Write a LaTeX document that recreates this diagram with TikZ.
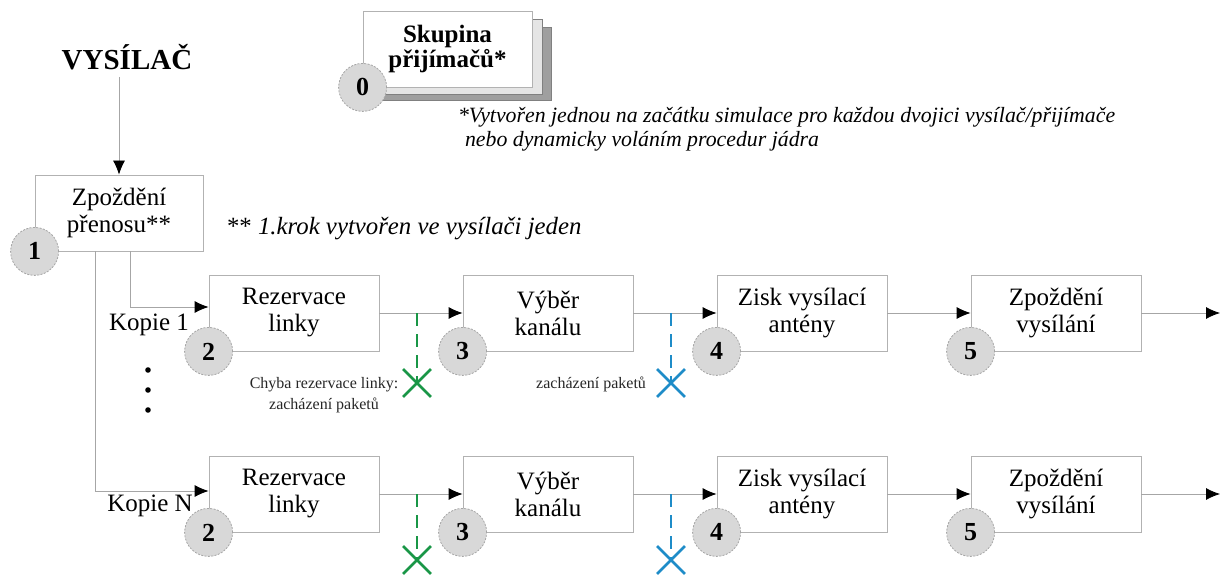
\documentclass[tikz,border=0pt]{standalone}
\usepackage{fontspec}
\setmainfont{Liberation Serif}
\usetikzlibrary{arrows.meta,calc,shapes.misc}
\definecolor{zelena}{RGB}{25,150,70}
\definecolor{modra}{RGB}{30,140,200}
\definecolor{kruh}{RGB}{216,216,216}
\begin{document}
\begin{tikzpicture}[x=0.5pt,y=-0.5pt,>={Latex[length=7pt,width=6pt,color=black]}]
\tikzstyle{every node}=[align=center]
\tikzstyle{blok}=[draw=gray!60,fill=white,minimum width=85pt,minimum height=38pt,inner sep=0pt,font=\fontsize{12.5}{13.5}\selectfont]
\tikzstyle{cislo}=[circle,draw=gray!70,dash pattern=on 1pt off 0.7pt,fill=kruh,minimum size=24pt,inner sep=0pt,font=\fontsize{13}{14}\selectfont\bfseries]
\tikzstyle{spoj}=[draw=gray!70,->]
\tikzstyle{zahoz}=[dash pattern=on 6.5pt off 4pt,line width=1.4pt]
\tikzstyle{krizek}=[cross out,line width=1.4pt,minimum size=12.5pt,inner sep=0pt]
\tikzstyle{popis}=[font=\fontsize{8}{10.5}\selectfont,text=black!85]
\useasboundingbox (0,0) rectangle (1225,577);
% skupina prijimacu
\filldraw[draw=gray,fill=gray!75] (381,27) rectangle (551,100);
\filldraw[draw=gray,fill=gray!20] (372,19) rectangle (542,94);
\node[blok,minimum width=84.5pt,font=\fontsize{12.5}{12.5}\selectfont\bfseries] (sk) at (447.5,49) {Skupina\\p\v{r}ij\'ima\v{c}\r{u}*};
\node[cislo] (c0) at (sk.south west) {0};
\node[anchor=west,align=left,font=\fontsize{10.9}{12}\selectfont\itshape] (pozn1) at (451,129)
  {*Vytvo\v{r}en jednou na za\v{c}\'atku simulace pro ka\v{z}dou dvojici vys\'ila\v{c}/p\v{r}ij\'ima\v{c}e\\
   \hspace*{3.5pt}nebo dynamicky vol\'an\'im procedur j\'adra};
% vysilac
\node[font=\fontsize{14.5}{15}\selectfont\bfseries] (vys) at (127,57) {VYS\'ILA\v{C}};
\node[blok,minimum width=84pt] (z1) at (119,213) {Zpo\v{z}d\v{e}n\'i\\p\v{r}enosu**};
\node[cislo] (c1) at (z1.south west) {1};
\draw[spoj] (vys.south -| z1.north) -- (z1.north);
\node[anchor=west,font=\fontsize{12.4}{13}\selectfont] (pozn2) at (220,229) {** \textit{1.krok vytvo\v{r}en ve vys\'ila\v{c}i jeden}};
% kopie 1
\node[blok] (a2) at (294,313) {Rezervace\\linky};
\node[blok] (a3) at (548,313) {V\'yb\v{e}r\\kan\'alu};
\node[blok] (a4) at (802,313) {Zisk vys\'ilac\'i\\ant\'eny};
\node[blok] (a5) at (1056,313) {Zpo\v{z}d\v{e}n\'i\\vys\'il\'an\'i};
\node[cislo] (ca2) at (a2.south west) {2};
\node[cislo] (ca3) at (a3.south west) {3};
\node[cislo] (ca4) at (a4.south west) {4};
\node[cislo] (ca5) at (a5.south west) {5};
% kopie N
\node[blok] (b2) at (294,494) {Rezervace\\linky};
\node[blok] (b3) at (548,494) {V\'yb\v{e}r\\kan\'alu};
\node[blok] (b4) at (802,494) {Zisk vys\'ilac\'i\\ant\'eny};
\node[blok] (b5) at (1056,494) {Zpo\v{z}d\v{e}n\'i\\vys\'il\'an\'i};
\node[cislo] (cb2) at (b2.south west) {2};
\node[cislo] (cb3) at (b3.south west) {3};
\node[cislo] (cb4) at (b4.south west) {4};
\node[cislo] (cb5) at (b5.south west) {5};
% rozdeleni na kopie
\coordinate (v1) at (130,0);
\coordinate (vn) at (95,0);
\draw[spoj] (z1.south -| v1) |- ([yshift=3pt]a2.west);
\draw[spoj] (z1.south -| vn) |- ([yshift=1.5pt]b2.west);
\node[font=\fontsize{12.5}{13}\selectfont] (k1) at (149,325) {Kopie 1};
\node[font=\fontsize{12.5}{13}\selectfont] (kn) at (150,506) {Kopie N};
\fill (148,370) circle (1.4pt) (148,390) circle (1.4pt) (148,410) circle (1.4pt);
% retezce
\coordinate (ka) at (1220,313);
\coordinate (kb) at (1220,494);
\draw[spoj] (a2) -- (a3);
\draw[spoj] (a3) -- (a4);
\draw[spoj] (a4) -- (a5);
\draw[spoj] (a5) -- (ka);
\draw[spoj] (b2) -- (b3);
\draw[spoj] (b3) -- (b4);
\draw[spoj] (b4) -- (b5);
\draw[spoj] (b5) -- (kb);
% zahozeni paketu
\node[krizek,draw=zelena] (xa2) at (417,383) {};
\node[krizek,draw=modra] (xa3) at (671,383) {};
\node[krizek,draw=zelena] (xb2) at (417,560) {};
\node[krizek,draw=modra] (xb3) at (671,560) {};
\draw[zahoz,zelena] (xa2 |- a2.east) -- (xa2.center);
\draw[zahoz,modra] (xa3 |- a3.east) -- (xa3.center);
\draw[zahoz,zelena] (xb2 |- b2.east) -- (xb2.center);
\draw[zahoz,modra] (xb3 |- b3.east) -- (xb3.center);
\node[popis] (chyba) at (324,395) {Chyba rezervace linky:\\zach\'azen\'i paket\r{u}};
\node[popis,anchor=east] (zach) at (653,384) {zach\'azen\'i paket\r{u}};
\end{tikzpicture}
\end{document}
